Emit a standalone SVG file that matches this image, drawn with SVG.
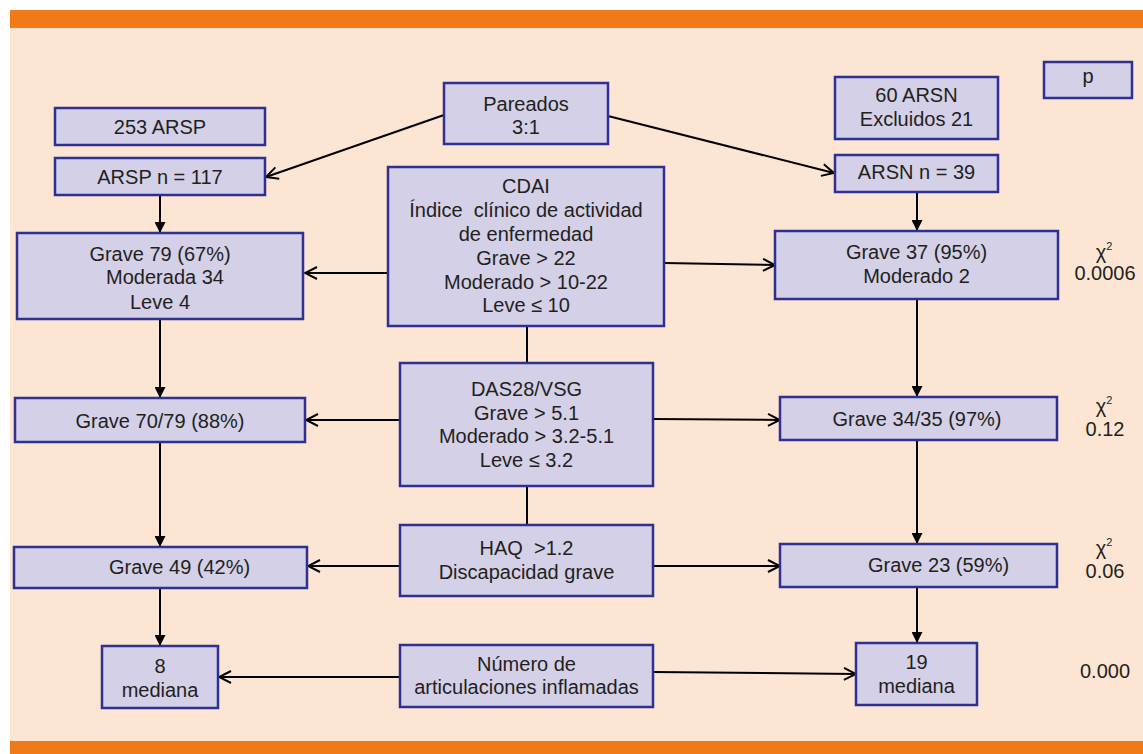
<svg xmlns="http://www.w3.org/2000/svg" width="1143" height="754" viewBox="0 0 1143 754">
<defs>
<style>
.box{fill:#D3D0E7;stroke:#2E3191;stroke-width:2.5}
.t{font-family:"Liberation Sans",Arial,sans-serif;font-size:20px;fill:#231F20;text-anchor:middle}
.ts{font-family:"Liberation Sans",Arial,sans-serif;font-size:20px;fill:#231F20;text-anchor:start}
.c{stroke:#000;stroke-width:2;fill:none}
.o{marker-end:url(#open)}
.f{marker-end:url(#fill)}
</style>
<marker id="open" viewBox="0 0 14 14" refX="13" refY="7" markerWidth="14" markerHeight="14" markerUnits="userSpaceOnUse" orient="auto">
<path d="M1,1 L13,7 L1,13" fill="none" stroke="#000" stroke-width="2"/>
</marker>
<marker id="fill" viewBox="0 0 11 11" refX="11" refY="5.5" markerWidth="11" markerHeight="11" markerUnits="userSpaceOnUse" orient="auto">
<path d="M0,0 L11,5.5 L0,11 Z" fill="#000"/>
</marker>
</defs>
<rect x="0" y="0" width="1143" height="754" fill="#FFFFFF"/>
<rect x="10" y="10" width="1133" height="18" fill="#EF7A17"/>
<rect x="10" y="28" width="1133" height="713" fill="#FDE5D3"/>
<rect x="10" y="741" width="1133" height="13" fill="#EF7A17"/>

<g id="connectors">
<line class="c o" x1="444" y1="115" x2="266" y2="177"/>
<line class="c o" x1="608" y1="116" x2="834" y2="173"/>
<line class="c f" x1="160" y1="195" x2="160" y2="233"/>
<line class="c f" x1="917" y1="192" x2="917" y2="231"/>
<line class="c f" x1="160" y1="319" x2="160" y2="398"/>
<line class="c f" x1="160" y1="442" x2="160" y2="547"/>
<line class="c f" x1="160" y1="588" x2="160" y2="646"/>
<line class="c f" x1="917" y1="299" x2="917" y2="397"/>
<line class="c f" x1="917" y1="440" x2="917" y2="544"/>
<line class="c f" x1="917" y1="587" x2="917" y2="643"/>
<line class="c o" x1="388" y1="273" x2="305" y2="273"/>
<line class="c o" x1="664" y1="263" x2="775" y2="265"/>
<line class="c o" x1="400" y1="420" x2="306" y2="420"/>
<line class="c o" x1="653" y1="419" x2="780" y2="420"/>
<line class="c o" x1="400" y1="566" x2="308" y2="566"/>
<line class="c o" x1="653" y1="566" x2="780" y2="566"/>
<line class="c o" x1="400" y1="677" x2="219" y2="677"/>
<line class="c o" x1="653" y1="672" x2="856" y2="674"/>
<line class="c" x1="527" y1="326" x2="527" y2="363"/>
<line class="c" x1="527" y1="486" x2="527" y2="525"/>
</g>

<g id="n253">
<rect class="box" x="55" y="108" width="210" height="37"/>
<text class="t" x="160" y="134">253 ARSP</text>
</g>
<g id="nARSP117">
<rect class="box" x="55" y="158" width="210" height="37"/>
<text class="t" x="160" y="184">ARSP n = 117</text>
</g>
<g id="nPareados">
<rect class="box" x="444" y="83" width="164" height="61"/>
<text class="t" x="526" y="111">Pareados</text>
<text class="t" x="526" y="134">3:1</text>
</g>
<g id="nCDAI">
<rect class="box" x="388" y="167" width="276" height="159"/>
<text class="t" x="526" y="193">CDAI</text>
<text class="t" x="526" y="217" xml:space="preserve">Índice  clínico de actividad</text>
<text class="t" x="526" y="241">de enfermedad</text>
<text class="t" x="526" y="265">Grave &gt; 22</text>
<text class="t" x="526" y="289">Moderado &gt; 10-22</text>
<text class="t" x="526" y="312">Leve ≤ 10</text>
</g>
<g id="n60ARSN">
<rect class="box" x="835" y="77" width="163" height="62"/>
<text class="t" x="916.5" y="102">60 ARSN</text>
<text class="t" x="916.5" y="126">Excluidos 21</text>
</g>
<g id="np">
<rect class="box" x="1044" y="62" width="88" height="36"/>
<text class="t" x="1088" y="83">p</text>
</g>
<g id="nARSN39">
<rect class="box" x="835" y="155" width="163" height="37"/>
<text class="t" x="916.5" y="179">ARSN n = 39</text>
</g>
<g id="nGrave37">
<rect class="box" x="775" y="231" width="283" height="68"/>
<text class="t" x="916.5" y="259">Grave 37 (95%)</text>
<text class="t" x="916.5" y="283">Moderado 2</text>
</g>
<g id="nGrave79">
<rect class="box" x="17" y="233" width="286" height="86"/>
<text class="t" x="160" y="261">Grave 79 (67%)</text>
<text class="t" x="165" y="284">Moderada 34</text>
<text class="t" x="160" y="309">Leve 4</text>
</g>
<g id="nGrave7079">
<rect class="box" x="15" y="398" width="290" height="44"/>
<text class="t" x="160" y="428">Grave 70/79 (88%)</text>
</g>
<g id="nGrave49">
<rect class="box" x="14" y="547" width="293" height="41"/>
<text class="ts" x="109" y="574">Grave 49 (42%)</text>
</g>
<g id="n8">
<rect class="box" x="102" y="646" width="116" height="62"/>
<text class="t" x="160" y="673">8</text>
<text class="t" x="160" y="697">mediana</text>
</g>
<g id="nDAS28">
<rect class="box" x="400" y="363" width="253" height="123"/>
<text class="t" x="526.5" y="396">DAS28/VSG</text>
<text class="t" x="526.5" y="420">Grave &gt; 5.1</text>
<text class="t" x="526.5" y="443">Moderado &gt; 3.2-5.1</text>
<text class="t" x="526.5" y="467">Leve ≤ 3.2</text>
</g>
<g id="nHAQ">
<rect class="box" x="400" y="525" width="253" height="71"/>
<text class="t" x="526.5" y="555" xml:space="preserve">HAQ  &gt;1.2</text>
<text class="t" x="526.5" y="579">Discapacidad grave</text>
</g>
<g id="nNumero">
<rect class="box" x="400" y="645" width="253" height="62"/>
<text class="t" x="526.5" y="671">Número de</text>
<text class="t" x="526.5" y="694">articulaciones inflamadas</text>
</g>
<g id="nGrave3435">
<rect class="box" x="780" y="397" width="277" height="43"/>
<text class="t" x="917" y="426">Grave 34/35 (97%)</text>
</g>
<g id="nGrave23">
<rect class="box" x="780" y="544" width="277" height="43"/>
<text class="ts" x="868" y="572">Grave 23 (59%)</text>
</g>
<g id="n19">
<rect class="box" x="856" y="643" width="121" height="62"/>
<text class="t" x="916.5" y="669">19</text>
<text class="t" x="916.5" y="693">mediana</text>
</g>

<g id="stats">
<text class="t" x="1104" y="259">χ<tspan font-size="11" dy="-9">2</tspan></text>
<text class="t" x="1105" y="280">0.0006</text>
<text class="t" x="1104" y="413">χ<tspan font-size="11" dy="-9">2</tspan></text>
<text class="t" x="1105" y="436">0.12</text>
<text class="t" x="1104" y="555">χ<tspan font-size="11" dy="-9">2</tspan></text>
<text class="t" x="1105" y="578">0.06</text>
<text class="t" x="1105" y="678">0.000</text>
</g>
</svg>
